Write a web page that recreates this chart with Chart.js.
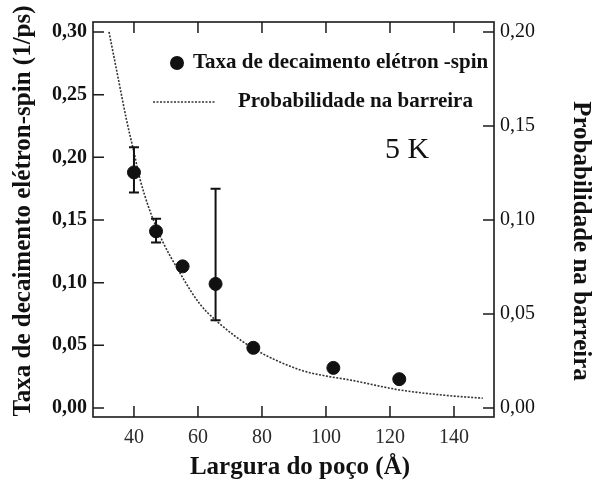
<!DOCTYPE html>
<html lang="pt">
<head>
<meta charset="utf-8">
<title>Taxa de decaimento elétron-spin</title>
<script src="https://cdn.jsdelivr.net/npm/chart.js@4.4.1/dist/chart.umd.min.js"></script>
<style>
    html, body {
        margin: 0;
        padding: 0;
        background: #ffffff;
    }
    #chart-box {
        width: 592px;
        height: 483px;
    }
</style>
</head>
<body>
<div id="chart-box">
    <canvas id="decayChart" width="592" height="483"></canvas>
</div>
<script>
// Measured points: well width (Å) and electron-spin decay rate (1/ps)
const wellWidths = [40, 46.9, 55.2, 65.5, 77.3, 102.3, 122.9];
const decayRates = [0.188, 0.141, 0.113, 0.099, 0.048, 0.032, 0.023];
const errorLow = [0.172, 0.132, null, 0.070, null, null, null];
const errorHigh = [0.208, 0.151, null, 0.175, null, null, null];

// Barrier probability curve (right axis)
const curveWidths = [32.2, 35, 37.7, 40, 42, 47, 55, 60.6, 65.5, 77, 92, 100, 107.5, 123, 138.8, 149];
const curveProb = [0.200, 0.176, 0.153, 0.136, 0.121, 0.096, 0.070, 0.0553, 0.0467, 0.032, 0.0202, 0.0170, 0.0149, 0.0096, 0.0065, 0.0052];

// Tick labels
const xTicks = [40, 60, 80, 100, 120, 140];
const leftTicks = [0, 0.05, 0.10, 0.15, 0.20, 0.25, 0.30];
const rightTicks = [0, 0.05, 0.10, 0.15, 0.20];

const SERIF = '"Liberation Serif", "DejaVu Serif", serif';
const INK = '#111111';

document.addEventListener('DOMContentLoaded', function() {
    initChart();
});

/**
 * Format a value with a decimal comma
 */
function formatComma(value) {
    return value.toFixed(2).replace('.', ',');
}

/**
 * Frame, inward ticks, error bars, legend and labels
 */
const decorationsPlugin = {
    id: 'decorations',
    afterDatasetsDraw(chart) {
        const ctx = chart.ctx;
        const area = chart.chartArea;
        const x = chart.scales.x;
        const y = chart.scales.y;
        const y2 = chart.scales.y2;
        const tickLen = 11;

        ctx.save();

        // Error bars
        ctx.strokeStyle = INK;
        ctx.lineWidth = 2;
        wellWidths.forEach((w, i) => {
            if (errorLow[i] === null) return;
            const px = x.getPixelForValue(w);
            const top = y.getPixelForValue(errorHigh[i]);
            const bottom = y.getPixelForValue(errorLow[i]);
            ctx.beginPath();
            ctx.moveTo(px, top);
            ctx.lineTo(px, bottom);
            ctx.moveTo(px - 5, top);
            ctx.lineTo(px + 5, top);
            ctx.moveTo(px - 5, bottom);
            ctx.lineTo(px + 5, bottom);
            ctx.stroke();
        });

        // Frame
        ctx.lineWidth = 1.6;
        ctx.strokeStyle = '#1a1a1a';
        ctx.strokeRect(area.left, area.top, area.right - area.left, area.bottom - area.top);

        // Inward ticks
        ctx.lineWidth = 1.5;
        ctx.beginPath();
        xTicks.forEach(v => {
            const px = x.getPixelForValue(v);
            ctx.moveTo(px, area.bottom);
            ctx.lineTo(px, area.bottom - tickLen);
            ctx.moveTo(px, area.top);
            ctx.lineTo(px, area.top + tickLen);
        });
        leftTicks.forEach(v => {
            const py = y.getPixelForValue(v);
            ctx.moveTo(area.left, py);
            ctx.lineTo(area.left + tickLen, py);
        });
        rightTicks.forEach(v => {
            const py = y2.getPixelForValue(v);
            ctx.moveTo(area.right, py);
            ctx.lineTo(area.right - tickLen, py);
        });
        ctx.stroke();

        // Legend
        ctx.fillStyle = INK;
        ctx.beginPath();
        ctx.arc(177, 63, 7, 0, Math.PI * 2);
        ctx.fill();
        ctx.strokeStyle = '#333333';
        ctx.lineWidth = 1.5;
        ctx.setLineDash([2, 1.5]);
        ctx.beginPath();
        ctx.moveTo(153, 102);
        ctx.lineTo(215, 102);
        ctx.stroke();
        ctx.setLineDash([]);

        ctx.font = 'bold 21px ' + SERIF;
        ctx.textAlign = 'left';
        ctx.textBaseline = 'middle';
        ctx.fillText('Taxa de decaimento elétron -spin', 193, 63);
        ctx.fillText('Probabilidade na barreira', 238, 102);

        // Temperature label
        ctx.font = '30px ' + SERIF;
        ctx.textAlign = 'center';
        ctx.fillText('5 K', 407, 150);

        // Axis titles
        ctx.font = 'bold 25px ' + SERIF;
        ctx.textBaseline = 'alphabetic';
        ctx.fillText('Largura do poço (Å)', 300, 474);

        ctx.save();
        ctx.translate(30, 211);
        ctx.rotate(-Math.PI / 2);
        ctx.fillText('Taxa de decaimento elétron-spin (1/ps)', 0, 0);
        ctx.restore();

        ctx.save();
        ctx.translate(574, 241);
        ctx.rotate(Math.PI / 2);
        ctx.fillText('Probabilidade na barreira', 0, 0);
        ctx.restore();

        ctx.restore();
    }
};

/**
 * Build the chart
 */
function initChart() {
    const ctx = document.getElementById('decayChart').getContext('2d');

    window.decayChart = new Chart(ctx, {
        type: 'scatter',
        data: {
            datasets: [
                {
                    label: 'Taxa de decaimento elétron -spin',
                    data: wellWidths.map((w, i) => ({ x: w, y: decayRates[i] })),
                    yAxisID: 'y',
                    backgroundColor: INK,
                    borderColor: INK,
                    pointRadius: 6.5,
                    pointHoverRadius: 6.5,
                    showLine: false
                },
                {
                    label: 'Probabilidade na barreira',
                    data: curveWidths.map((w, i) => ({ x: w, y: curveProb[i] })),
                    yAxisID: 'y2',
                    showLine: true,
                    borderColor: '#333333',
                    borderWidth: 1.6,
                    borderDash: [2, 1.5],
                    pointRadius: 0,
                    cubicInterpolationMode: 'monotone'
                }
            ]
        },
        options: {
            responsive: false,
            animation: false,
            devicePixelRatio: 1,
            layout: {
                padding: { top: 22, left: 0, right: 0, bottom: 0 }
            },
            plugins: {
                legend: { display: false },
                tooltip: { enabled: false }
            },
            scales: {
                x: {
                    type: 'linear',
                    min: 27.2,
                    max: 152.5,
                    grid: { display: false, drawTicks: false },
                    border: { display: false },
                    afterFit: scale => { scale.height = 66; },
                    afterBuildTicks: scale => {
                        scale.ticks = xTicks.map(v => ({ value: v }));
                    },
                    ticks: {
                        padding: 9,
                        color: '#2a2a2a',
                        font: { family: SERIF, size: 20 },
                        callback: value => String(value)
                    }
                },
                y: {
                    type: 'linear',
                    position: 'left',
                    min: -0.0072,
                    max: 0.308,
                    grid: { display: false, drawTicks: false },
                    border: { display: false },
                    afterFit: scale => { scale.width = 93; },
                    afterBuildTicks: scale => {
                        scale.ticks = leftTicks.map(v => ({ value: v }));
                    },
                    ticks: {
                        padding: 6,
                        color: INK,
                        font: { family: SERIF, size: 20, weight: 'bold' },
                        callback: value => formatComma(value)
                    }
                },
                y2: {
                    type: 'linear',
                    position: 'right',
                    min: -0.0048,
                    max: 0.2053,
                    grid: { display: false, drawTicks: false },
                    border: { display: false },
                    afterFit: scale => { scale.width = 98; },
                    afterBuildTicks: scale => {
                        scale.ticks = rightTicks.map(v => ({ value: v }));
                    },
                    ticks: {
                        padding: 6,
                        color: INK,
                        font: { family: SERIF, size: 20 },
                        callback: value => formatComma(value)
                    }
                }
            }
        },
        plugins: [decorationsPlugin]
    });
}
</script>
</body>
</html>
